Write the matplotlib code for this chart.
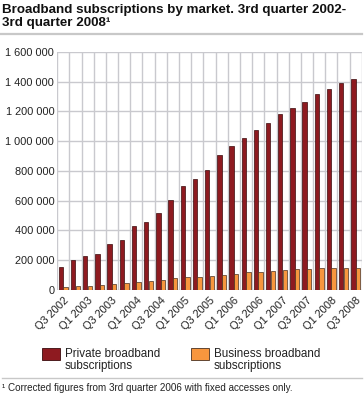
import numpy as np
import matplotlib
matplotlib.use("Agg")
import matplotlib.pyplot as plt
from matplotlib.patches import Rectangle
from matplotlib.lines import Line2D

plt.rcParams["font.family"] = ["Liberation Sans", "DejaVu Sans"]

quarters = [f"Q{q} {y}" for y in range(2002, 2009) for q in (1, 2, 3, 4)][2:27]
private = [157, 204, 227, 245, 310, 334, 428, 455, 515, 605, 699, 746, 806,
           909, 965, 1019, 1075, 1122, 1182, 1225, 1263, 1316, 1350, 1388, 1417]
business = [18.6, 25, 27, 34, 41, 48, 54, 61, 68, 79, 88, 88, 92,
            101, 108, 119, 124, 128, 133, 139, 144, 146, 146, 146, 146]
private = np.array(private) * 1000
business = np.array(business) * 1000
yticks = [0, 200000, 400000, 600000, 800000, 1000000, 1200000, 1400000, 1600000]

RED = "#8e1a20"
ORANGE = "#f7963e"
GRID = "#c9c9ce"

fig = plt.figure(figsize=(3.64, 3.95), dpi=100)
ax = fig.add_axes([0.157, 0.2656, 0.837, 0.6035])

x = np.arange(len(quarters))
w = 0.36
ax.bar(x - 0.19, private, w, color=RED, edgecolor="#3a0a0c", linewidth=0.5, zorder=3)
ax.bar(x + 0.19, business, w, color=ORANGE, edgecolor="#4a3020", linewidth=0.5, zorder=3)

ax.set_xlim(-0.5, len(quarters) - 0.5)
ax.set_ylim(0, 1600000)
ax.set_yticks(yticks)
ax.set_yticklabels([f"{v:,}".replace(",", " ") for v in yticks], fontsize=7.9, color="#222222")
for v in yticks:
    ax.axhline(v, color=GRID, linewidth=1.0, zorder=1)
for b in np.arange(-0.5, len(quarters), 1.0):
    ax.axvline(b, color=GRID, linewidth=1.0, zorder=1)

ax.set_xticks(x[::2])
ax.set_xticklabels(quarters[::2], rotation=45, ha="right", rotation_mode="anchor",
                   fontsize=7.9, color="#222222")
ax.tick_params(axis="both", length=0, pad=2)
ax.tick_params(axis="x", pad=4)
for s in ax.spines.values():
    s.set_visible(False)

fig.text(0.005, 0.99, "Broadband subscriptions by market. 3rd quarter 2002-\n3rd quarter 2008\u00b9",
         fontsize=9.6, fontweight="bold", va="top", ha="left", color="#111111", linespacing=1.1)
fig.add_artist(Line2D([0, 0.995], [1 - 33.5 / 395, 1 - 33.5 / 395], transform=fig.transFigure,
                      color="#c8c8c8", linewidth=1.6))

# legend
for px, label, c, ec in [(42, "Private broadband\nsubscriptions", RED, "#3a0a0c"),
                         (191, "Business broadband\nsubscriptions", ORANGE, "#4a3020")]:
    fig.add_artist(Rectangle((px / 364, 1 - 360 / 395), 18 / 364, 12 / 395,
                             transform=fig.transFigure, facecolor=c, edgecolor=ec, linewidth=0.6))
    fig.text((px + 23) / 364, 1 - 348 / 395, label, fontsize=8.4, va="top", ha="left",
             color="#222222", linespacing=0.95)

fig.add_artist(Line2D([0.005, 0.995], [1 - 378 / 395, 1 - 378 / 395], transform=fig.transFigure,
                      color="#c8c8c8", linewidth=1.0))
fig.text(0.005, 1 - 388 / 395, "\u00b9 Corrected figures from 3rd quarter 2006 with fixed accesses only.",
         fontsize=7.1, va="center", ha="left", color="#222222")

fig.savefig("out.png", dpi=100)
